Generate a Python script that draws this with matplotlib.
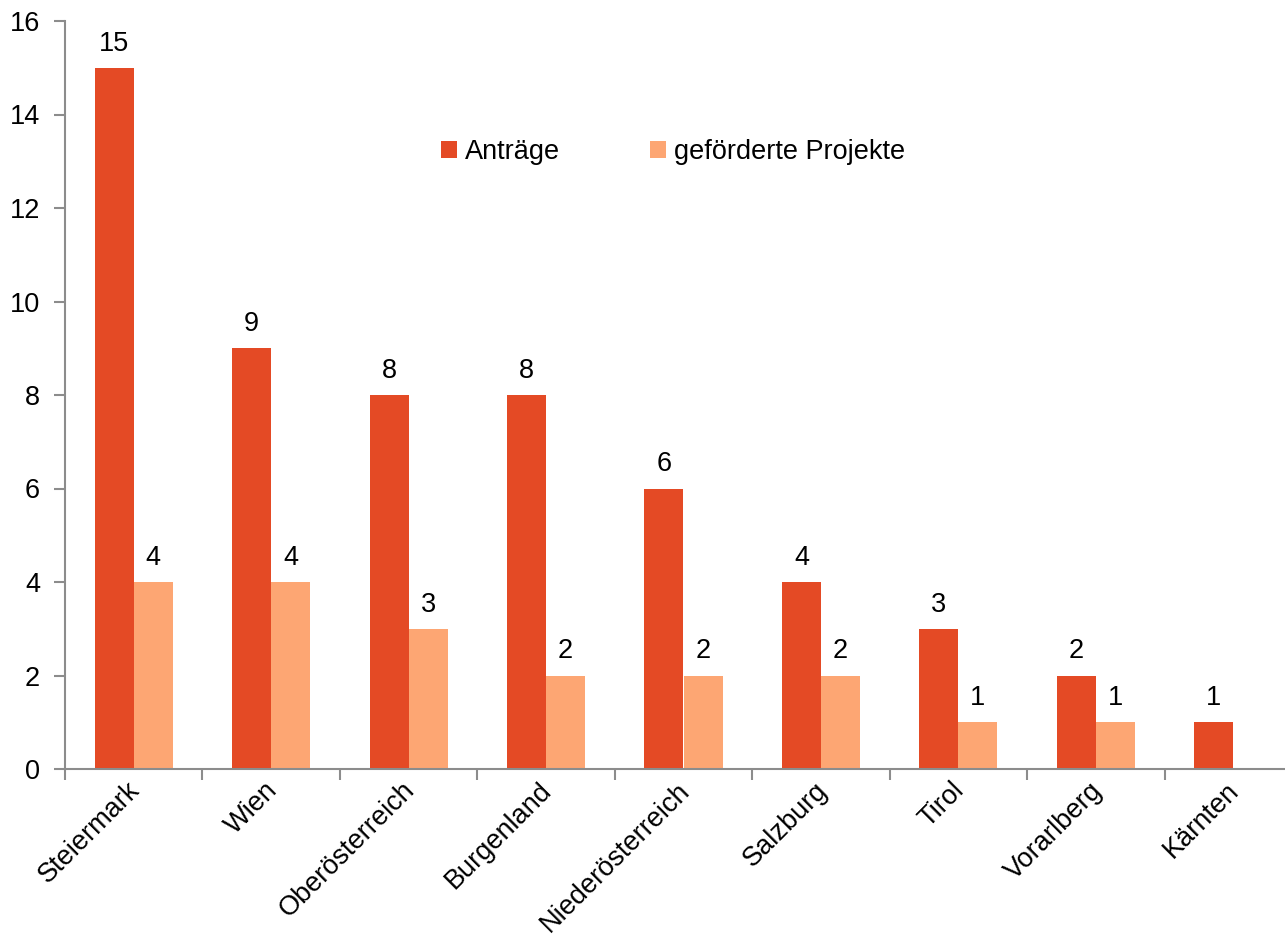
import matplotlib.pyplot as plt
import matplotlib.transforms as mtransforms
import numpy as np

plt.rcParams['font.family'] = ['Liberation Sans', 'DejaVu Sans']

# data
regions = ['Steiermark', 'Wien', 'Oberösterreich', 'Burgenland', 'Niederösterreich',
           'Salzburg', 'Tirol', 'Vorarlberg', 'Kärnten']
antraege = [15, 9, 8, 8, 6, 4, 3, 2, 1]
gefoerdert = [4, 4, 3, 2, 2, 2, 1, 1, 0]

red = '#E44A25'
orange = '#FDA673'
grey = '#8C8C8C'
fs = 19.5

fig = plt.figure(figsize=(12.85, 9.4), dpi=100)
ax = fig.add_axes([65 / 1285, 171 / 940, 1237 / 1285, 748 / 940])

x = np.arange(len(regions))
w = 0.284
b1 = ax.bar(x - w / 2, antraege, w, color=red, label='Anträge')
b2 = ax.bar(x + w / 2, gefoerdert, w, color=orange, label='geförderte Projekte')

for rect, v in list(zip(b1, antraege)) + list(zip(b2, gefoerdert)):
    if v == 0:
        continue
    ax.annotate(str(v), (rect.get_x() + rect.get_width() / 2, v),
                xytext=(0, 8), textcoords='offset points',
                ha='center', va='bottom', fontsize=fs)

ax.set_xlim(-0.5, len(regions) - 0.5)
ax.set_ylim(0, 16)
ax.set_yticks(range(0, 17, 2))
ax.set_xticks(x)
ax.set_xticklabels(regions, rotation=45, ha='right', rotation_mode='anchor', fontsize=fs)
ax.set_xticks(np.arange(-0.5, len(regions), 1), minor=True)
ax.tick_params(axis='x', which='major', length=0, pad=6)
ax.tick_params(axis='x', which='minor', length=8, color=grey, width=1.5)
ax.tick_params(axis='y', length=8, color=grey, width=1.5, labelsize=fs, pad=10)
shift = mtransforms.ScaledTranslation(-7 / 100, 0, fig.dpi_scale_trans)
for lbl in ax.get_xticklabels():
    lbl.set_transform(lbl.get_transform() + shift)

for s in ['top', 'right']:
    ax.spines[s].set_visible(False)
for s in ['left', 'bottom']:
    ax.spines[s].set_color(grey)
    ax.spines[s].set_linewidth(1.5)

ax.legend(loc='upper left', bbox_to_anchor=(0.284, 0.875), ncol=2, frameon=False,
          fontsize=fs, handlelength=0.6, handleheight=0.6, handletextpad=0.3,
          columnspacing=3.3)

fig.savefig('out.png', dpi=100)
